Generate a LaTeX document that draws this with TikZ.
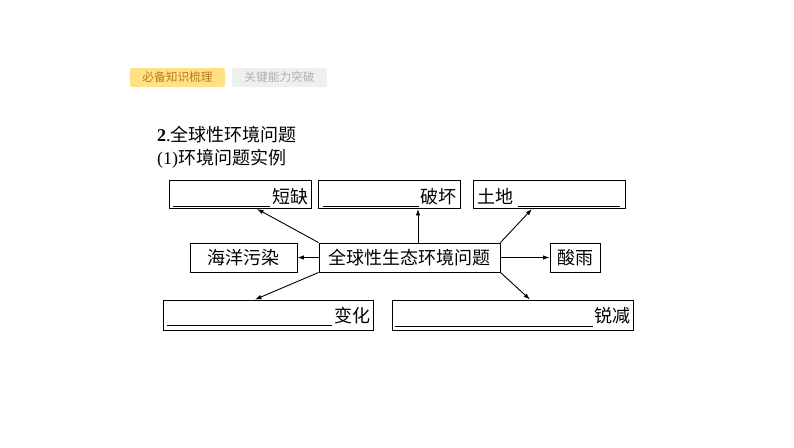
\documentclass[tikz,border=0pt]{standalone}
\usepackage{fontspec}
\setmainfont{Liberation Serif}
\newfontfamily\cjk{Noto Sans CJK SC}
\usetikzlibrary{arrows.meta}
\definecolor{tabY}{HTML}{FFE083}
\definecolor{tabYt}{HTML}{B97A22}
\definecolor{tabG}{HTML}{EFEFEF}
\definecolor{tabGt}{HTML}{B0B0B0}
\tikzset{
  box/.style={draw=black, line width=0.9pt, inner sep=0pt},
  arr/.style={line width=0.9pt, -{Latex[length=6.5pt,width=4.5pt]}},
  uline/.style={line width=0.8pt},
  lbl/.style={inner sep=0pt, font=\fontsize{18}{18}\selectfont\cjk},
  tab/.style={rounded corners=2pt, inner sep=0pt, minimum width=95pt, minimum height=19pt, font=\fontsize{11.7}{12}\selectfont\cjk},
}
\begin{document}
\begin{tikzpicture}[x=1pt,y=-1pt]
\useasboundingbox (0,0) rectangle (794,447);
% tabs
\node[tab, fill=tabY, text=tabYt] (tab1) at (177.5,77.5) {必备知识梳理};
\node[tab, fill=tabG, text=tabGt] (tab2) at (279.5,77.5) {关键能力突破};
% headings
\node[inner sep=0pt, anchor=base west] (h1) at (157,141.5) {\fontsize{18}{18}\selectfont\textbf{2}.\cjk 全球性环境问题};
\node[inner sep=0pt, anchor=base west] (h2) at (157,164) {\fontsize{18}{18}\selectfont(1)\cjk 环境问题实例};
% boxes
\node[box, minimum width=142pt, minimum height=28.5pt] (b1) at (240,194.25) {};
\node[box, minimum width=142pt, minimum height=28.5pt] (b2) at (389,194.25) {};
\node[box, minimum width=152pt, minimum height=28.5pt] (b3) at (549,194.25) {};
\node[box, minimum width=107pt, minimum height=29pt] (hy) at (243.5,257.5) {};
\node[box, minimum width=181pt, minimum height=29pt] (c) at (409.5,257.5) {};
\node[box, minimum width=50pt, minimum height=29pt] (sy) at (575,257.5) {};
\node[box, minimum width=210pt, minimum height=30pt] (bh) at (268,315) {};
\node[box, minimum width=241pt, minimum height=30pt] (rj) at (512.5,315) {};
% texts
\node[lbl, anchor=base east] (t1) at (308.5,203.5) {短缺};
\node[lbl, anchor=base east] (t2) at (457,203.5) {破坏};
\node[lbl, anchor=base west] (t3) at (477,203.5) {土地};
\node[lbl, anchor=base] (thy) at (243,264.5) {海洋污染};
\node[lbl, anchor=base] (tc) at (409.5,264.5) {全球性生态环境问题};
\node[lbl, anchor=base] (tsy) at (575,264.5) {酸雨};
\node[lbl, anchor=base east] (tbh) at (370.5,322) {变化};
\node[lbl, anchor=base east] (trj) at (630.5,322) {锐减};
% underlines
\draw[uline] (173,206.5) -- (270,206.5);
\draw[uline] (323,206.5) -- (419,206.5);
\draw[uline] (518,206.5) -- (620,206.5);
\draw[uline] (167,325.5) -- (332,325.5);
\draw[uline] (395,326) -- (593,326);
% arrows
\draw[arr] (c.north west) -- ([xshift=17pt]b1.south);
\draw[arr] ([xshift=8.5pt]c.north) -- ([xshift=29pt]b2.south);
\draw[arr] (c.north east) -- ([xshift=-17pt]b3.south);
\draw[arr] (c.west) -- (hy.east);
\draw[arr] (c.east) -- (sy.west);
\draw[arr] (c.south west) -- ([xshift=-13pt]bh.north);
\draw[arr] (c.south east) -- ([xshift=17.5pt]rj.north);
\end{tikzpicture}
\end{document}
